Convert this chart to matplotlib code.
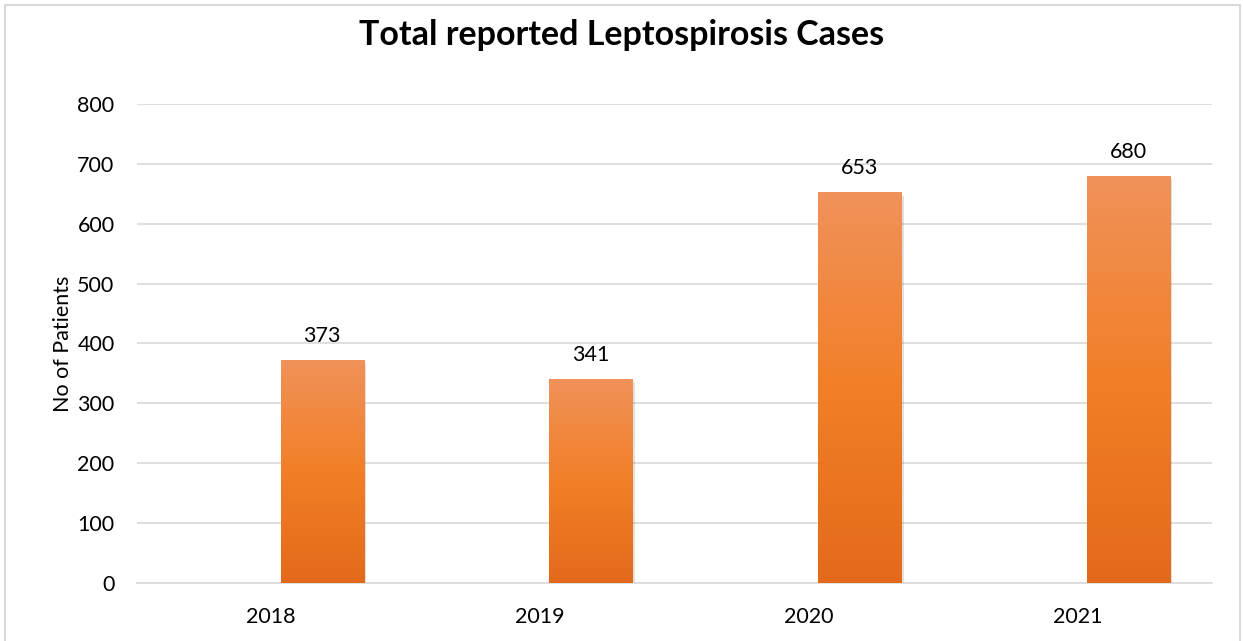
import matplotlib
matplotlib.use("Agg")
import matplotlib.pyplot as plt
import numpy as np
from matplotlib.colors import LinearSegmentedColormap
from matplotlib.patches import Rectangle

years = ["2018", "2019", "2020", "2021"]
cases = [373, 341, 653, 680]
y_ticks = [0, 100, 200, 300, 400, 500, 600, 700, 800]

plt.rcParams["font.family"] = ["Lato", "DejaVu Sans"]

fig = plt.figure(figsize=(12.43, 6.41), dpi=100)
ax = fig.add_axes([0.110, 0.0905, 0.865, 0.7473])

# outer frame like the spreadsheet chart border
fig.patches.append(Rectangle((5 / 1243, -0.02), 1235 / 1243, 1.02 - 5 / 641,
                             transform=fig.transFigure, fill=False,
                             edgecolor="#D9D9D9", lw=1.5))

x = np.arange(len(years))
width = 0.31
offset = 0.19  # bars sit right of the category centre (empty first series)

grad = LinearSegmentedColormap.from_list(
    "bar", ["#E36A1A", "#F27F27", "#F0925A"])
gradient = np.linspace(0, 1, 256).reshape(-1, 1)

for xi, val in zip(x + offset, cases):
    # soft shadow
    ax.bar(xi + 0.008, val, width, bottom=-6, color="#000000", alpha=0.12,
           zorder=2, linewidth=0)
    bar = ax.bar(xi, val, width, color="none", zorder=3, linewidth=0)[0]
    im = ax.imshow(gradient, cmap=grad, aspect="auto", origin="lower",
                   extent=[xi - width / 2, xi + width / 2, 0, val], zorder=3)
    im.set_clip_path(bar)
    ax.text(xi, val + 40, str(val), ha="center", va="center", fontsize=15.5,
            color="#000000", zorder=4)

ax.set_xlim(-0.5, len(years) - 0.5)
ax.set_ylim(0, 800)
ax.set_xticks(x)
ax.set_xticklabels(years)
ax.set_yticks(y_ticks)
ax.tick_params(axis="both", length=0, labelsize=15.5, colors="#000000")
ax.tick_params(axis="x", pad=17)
ax.tick_params(axis="y", pad=16)
ax.yaxis.grid(True, color="#D9D9D9", lw=1.2, zorder=0)
ax.set_axisbelow(True)
for side in ["top", "right", "left"]:
    ax.spines[side].set_visible(False)
ax.spines["bottom"].set_color("#D9D9D9")
ax.spines["bottom"].set_linewidth(1.2)

ax.set_ylabel("No of Patients", fontsize=15.5, labelpad=3)
fig.text(0.5, 0.945, "Total reported Leptospirosis Cases", ha="center",
         va="center", fontsize=24.5, fontweight="bold")

fig.savefig("out.png", dpi=100)
